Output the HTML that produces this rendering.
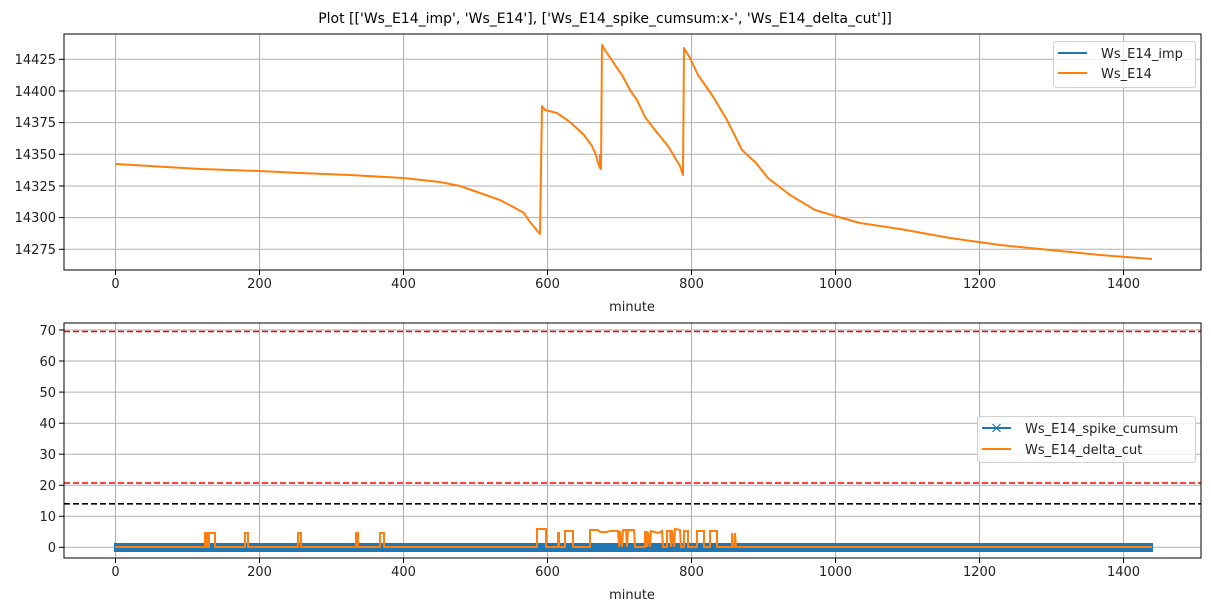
<!DOCTYPE html>
<html><head><meta charset="utf-8"><style>
body{margin:0;background:#fff;}
svg{display:block;font-family:"DejaVu Sans","Liberation Sans",sans-serif;}
</style></head><body>
<svg width="1211" height="611" viewBox="0 0 1211 611" xmlns="http://www.w3.org/2000/svg">
<rect width="1211" height="611" fill="#fff"/>
<text x="605" y="23" text-anchor="middle" font-size="14">Plot [['Ws_E14_imp', 'Ws_E14'], ['Ws_E14_spike_cumsum:x-', 'Ws_E14_delta_cut']]</text>

<!-- TOP AXES -->
<g stroke="#b0b0b0" stroke-width="1">
<line x1="115.5" y1="34" x2="115.5" y2="270"/><line x1="259.5" y1="34" x2="259.5" y2="270"/>
<line x1="403.5" y1="34" x2="403.5" y2="270"/><line x1="547.5" y1="34" x2="547.5" y2="270"/>
<line x1="691.5" y1="34" x2="691.5" y2="270"/><line x1="835.5" y1="34" x2="835.5" y2="270"/>
<line x1="979.5" y1="34" x2="979.5" y2="270"/><line x1="1123.5" y1="34" x2="1123.5" y2="270"/>
<line x1="64" y1="59.3" x2="1201" y2="59.3"/><line x1="64" y1="91" x2="1201" y2="91"/>
<line x1="64" y1="122.6" x2="1201" y2="122.6"/><line x1="64" y1="154.3" x2="1201" y2="154.3"/>
<line x1="64" y1="186" x2="1201" y2="186"/><line x1="64" y1="217.6" x2="1201" y2="217.6"/>
<line x1="64" y1="249.3" x2="1201" y2="249.3"/>
</g>
<polyline fill="none" stroke="#ff7f0e" stroke-width="2" stroke-linejoin="round" points="115.5,164 150,166 200,169 259,171 300,173 350,175 403,178 440,182 460,186 480,193 500,200 515,208 524,213 530,222 540,234 542,106 545,110 557,113 570,122 584,135 592,146 596,155 598,163 600,168 600,155 601,169 602,45 605,50 615,65 622,75 630,90 637,100 645,117 655,130 668,146 680,166 683,175 684,48 690,58 698,75 712,95 727,120 742,150 756,163 768,178 790,195 815,210 835,216 860,223 900,229 950,238 1000,245 1050,250 1100,255 1152,259"/>
<rect x="64" y="34" width="1137" height="236" fill="none" stroke="#000" stroke-width="1"/>
<g font-size="13" fill="#222">
<g text-anchor="end">
<text x="56" y="64">14425</text><text x="56" y="96">14400</text><text x="56" y="127">14375</text>
<text x="56" y="159">14350</text><text x="56" y="191">14325</text><text x="56" y="222">14300</text><text x="56" y="254">14275</text>
</g>
<g text-anchor="middle">
<text x="115.5" y="288">0</text><text x="259.5" y="288">200</text><text x="403.5" y="288">400</text>
<text x="547.5" y="288">600</text><text x="691.5" y="288">800</text><text x="835.5" y="288">1000</text>
<text x="979.5" y="288">1200</text><text x="1123.5" y="288">1400</text>
<text x="632" y="311">minute</text>
</g>
</g>
<g stroke="#000"><line x1="59" y1="59.3" x2="64" y2="59.3"/><line x1="59" y1="91" x2="64" y2="91"/><line x1="59" y1="122.6" x2="64" y2="122.6"/><line x1="59" y1="154.3" x2="64" y2="154.3"/><line x1="59" y1="186" x2="64" y2="186"/><line x1="59" y1="217.6" x2="64" y2="217.6"/><line x1="59" y1="249.3" x2="64" y2="249.3"/>
<line x1="115.5" y1="270" x2="115.5" y2="275"/><line x1="259.5" y1="270" x2="259.5" y2="275"/><line x1="403.5" y1="270" x2="403.5" y2="275"/><line x1="547.5" y1="270" x2="547.5" y2="275"/><line x1="691.5" y1="270" x2="691.5" y2="275"/><line x1="835.5" y1="270" x2="835.5" y2="275"/><line x1="979.5" y1="270" x2="979.5" y2="275"/><line x1="1123.5" y1="270" x2="1123.5" y2="275"/></g>
<rect x="1053.5" y="41.5" width="142" height="46" rx="3" fill="#fff" fill-opacity="0.8" stroke="#d0d0d0"/>
<line x1="1058" y1="53" x2="1087" y2="53" stroke="#1f77b4" stroke-width="2"/>
<line x1="1058" y1="73" x2="1087" y2="73" stroke="#ff7f0e" stroke-width="2"/>
<g font-size="13" fill="#222"><text x="1101" y="58">Ws_E14_imp</text><text x="1101" y="78">Ws_E14</text></g>

<!-- BOTTOM AXES -->
<g stroke="#b0b0b0" stroke-width="1">
<line x1="115.5" y1="323" x2="115.5" y2="558"/><line x1="259.5" y1="323" x2="259.5" y2="558"/>
<line x1="403.5" y1="323" x2="403.5" y2="558"/><line x1="547.5" y1="323" x2="547.5" y2="558"/>
<line x1="691.5" y1="323" x2="691.5" y2="558"/><line x1="835.5" y1="323" x2="835.5" y2="558"/>
<line x1="979.5" y1="323" x2="979.5" y2="558"/><line x1="1123.5" y1="323" x2="1123.5" y2="558"/>
<line x1="64" y1="330" x2="1201" y2="330"/><line x1="64" y1="361" x2="1201" y2="361"/>
<line x1="64" y1="392.1" x2="1201" y2="392.1"/><line x1="64" y1="423.2" x2="1201" y2="423.2"/>
<line x1="64" y1="454.2" x2="1201" y2="454.2"/><line x1="64" y1="485.3" x2="1201" y2="485.3"/>
<line x1="64" y1="516.3" x2="1201" y2="516.3"/><line x1="64" y1="547.3" x2="1201" y2="547.3"/>
</g>
<line x1="64" y1="331.5" x2="1201" y2="331.5" stroke="#ff0000" stroke-width="1.6" stroke-dasharray="6,3"/>
<line x1="64" y1="483" x2="1201" y2="483" stroke="#ff0000" stroke-width="1.6" stroke-dasharray="6,3"/>
<line x1="64" y1="503.8" x2="1201" y2="503.8" stroke="#000" stroke-width="1.6" stroke-dasharray="6,3"/>
<rect x="114" y="543" width="1039" height="9" fill="#1f77b4"/>
<polyline fill="none" stroke="#ff7f0e" stroke-width="2" points="115,547 205,547 205,533 207,533 207,547 209,547 209,533 215,533 215,547 245,547 245,533 248,533 248,547 298,547 298,533 301,533 301,547 356,547 356,533 358,533 358,547 380,547 380,533 384,533 384,547 537,547 537,529 546,529 546,547 558,547 558,533 559,533 559,547 565,547 565,531 573,531 573,547 590,547 590,530 598,530 600,532 606,532 610,531 618,531 619,547 620,531 622,547 623,530 626,530 627,547 628,530 632,530 634,530 635,547 645,547 645,532 647,532 647,547 648,532 650,547 651,531 658,533 662,531 663,547 667,547 667,531 670,531 671,547 672,530 674,547 675,529 680,530 681,547 684,547 684,531 688,531 688,547 697,547 697,531 704,531 704,547 710,547 710,531 717,531 717,547 732,547 732,533 733,547 735,547 735,533 736,547 1152,547"/>
<rect x="64" y="323" width="1137" height="235" fill="none" stroke="#000" stroke-width="1"/>
<g font-size="13" fill="#222">
<g text-anchor="end">
<text x="56" y="335">70</text><text x="56" y="366">60</text><text x="56" y="397">50</text><text x="56" y="428">40</text>
<text x="56" y="459">30</text><text x="56" y="490">20</text><text x="56" y="521">10</text><text x="56" y="552">0</text>
</g>
<g text-anchor="middle">
<text x="115.5" y="576">0</text><text x="259.5" y="576">200</text><text x="403.5" y="576">400</text>
<text x="547.5" y="576">600</text><text x="691.5" y="576">800</text><text x="835.5" y="576">1000</text>
<text x="979.5" y="576">1200</text><text x="1123.5" y="576">1400</text>
<text x="632" y="599">minute</text>
</g>
</g>
<g stroke="#000"><line x1="59" y1="330" x2="64" y2="330"/><line x1="59" y1="361" x2="64" y2="361"/><line x1="59" y1="392.1" x2="64" y2="392.1"/><line x1="59" y1="423.2" x2="64" y2="423.2"/><line x1="59" y1="454.2" x2="64" y2="454.2"/><line x1="59" y1="485.3" x2="64" y2="485.3"/><line x1="59" y1="516.3" x2="64" y2="516.3"/><line x1="59" y1="547.3" x2="64" y2="547.3"/>
<line x1="115.5" y1="558" x2="115.5" y2="563"/><line x1="259.5" y1="558" x2="259.5" y2="563"/><line x1="403.5" y1="558" x2="403.5" y2="563"/><line x1="547.5" y1="558" x2="547.5" y2="563"/><line x1="691.5" y1="558" x2="691.5" y2="563"/><line x1="835.5" y1="558" x2="835.5" y2="563"/><line x1="979.5" y1="558" x2="979.5" y2="563"/><line x1="1123.5" y1="558" x2="1123.5" y2="563"/></g>
<rect x="977.5" y="416.5" width="218" height="46" rx="3" fill="#fff" fill-opacity="0.8" stroke="#d0d0d0"/>
<line x1="982" y1="428" x2="1011" y2="428" stroke="#1f77b4" stroke-width="2"/>
<path d="M992.5,424 l8,8 M1000.5,424 l-8,8" stroke="#1f77b4" stroke-width="1.2"/>
<line x1="982" y1="449" x2="1011" y2="449" stroke="#ff7f0e" stroke-width="2"/>
<g font-size="13" fill="#222"><text x="1025" y="433">Ws_E14_spike_cumsum</text><text x="1025" y="454">Ws_E14_delta_cut</text></g>
</svg>
</body></html>
